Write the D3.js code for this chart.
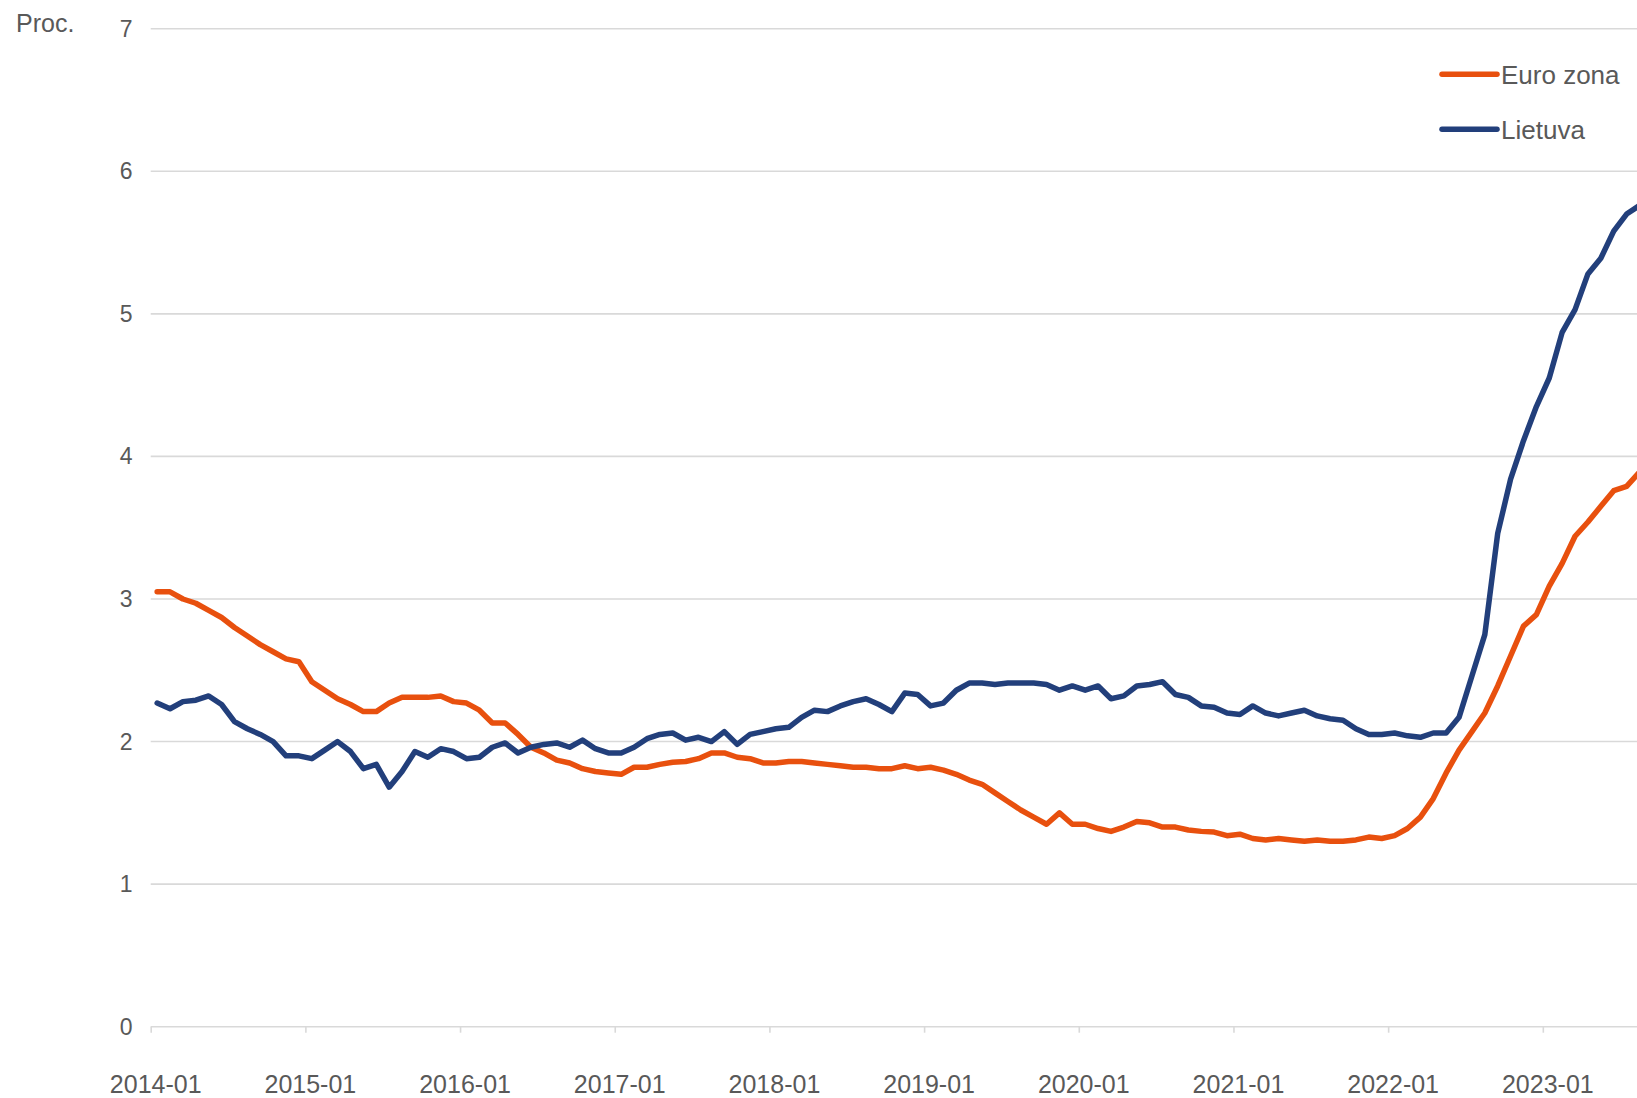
<!DOCTYPE html>
<html>
<head>
<meta charset="utf-8">
<script src="https://cdn.jsdelivr.net/npm/d3@7"></script>
<style>
  html, body { margin: 0; padding: 0; background: #fff; overflow: hidden; }
  svg { display: block; font-family: "Liberation Sans", Arial, sans-serif; }
</style>
</head>
<body>
<div id="chart"></div>
<script>
// monthly values, 2014-01 .. 2023-08
const euroZona = [
  3.05, 3.05, 3.00, 2.97, 2.92, 2.87, 2.80, 2.74, 2.68, 2.63, 2.58, 2.56,
  2.42, 2.36, 2.30, 2.26, 2.21, 2.21, 2.27, 2.31, 2.31, 2.31, 2.32, 2.28,
  2.27, 2.22, 2.13, 2.13, 2.05, 1.96, 1.92, 1.87, 1.85, 1.81, 1.79, 1.78,
  1.77, 1.82, 1.82, 1.84, 1.855, 1.86, 1.88, 1.92, 1.92, 1.89, 1.88, 1.85,
  1.85, 1.86, 1.86, 1.85, 1.84, 1.83, 1.82, 1.82, 1.81, 1.81, 1.83, 1.81,
  1.82, 1.80, 1.77, 1.73, 1.70, 1.64, 1.58, 1.52, 1.47, 1.42, 1.50, 1.42,
  1.42, 1.39, 1.37, 1.40, 1.44, 1.43, 1.40, 1.40, 1.38, 1.37, 1.365, 1.34,
  1.35, 1.32, 1.31, 1.32, 1.31, 1.30, 1.31, 1.30, 1.30, 1.31, 1.33, 1.32,
  1.34, 1.39, 1.47, 1.60, 1.78, 1.94, 2.07, 2.20, 2.39, 2.60, 2.81, 2.89,
  3.09, 3.25, 3.44, 3.54, 3.65, 3.76, 3.79, 3.89
];
const lietuva = [
  2.27, 2.23, 2.28, 2.29, 2.32, 2.26, 2.14, 2.09, 2.05, 2.00, 1.90, 1.90,
  1.88, 1.94, 2.00, 1.93, 1.81, 1.84, 1.68, 1.79, 1.93, 1.89, 1.95, 1.93,
  1.88, 1.89, 1.96, 1.99, 1.92, 1.96, 1.98, 1.99, 1.96, 2.01, 1.95, 1.92,
  1.92, 1.96, 2.02, 2.05, 2.06, 2.01, 2.03, 2.00, 2.07, 1.98, 2.05, 2.07,
  2.09, 2.10, 2.17, 2.22, 2.21, 2.25, 2.28, 2.30, 2.26, 2.21, 2.34, 2.33,
  2.25, 2.27, 2.36, 2.41, 2.41, 2.40, 2.41, 2.41, 2.41, 2.40, 2.36, 2.39,
  2.36, 2.39, 2.30, 2.32, 2.39, 2.40, 2.42, 2.33, 2.31, 2.25, 2.24, 2.20,
  2.19, 2.25, 2.20, 2.18, 2.20, 2.22, 2.18, 2.16, 2.15, 2.09, 2.05, 2.05,
  2.06, 2.04, 2.03, 2.06, 2.06, 2.17, 2.46, 2.75, 3.46, 3.84, 4.11, 4.35,
  4.55, 4.87, 5.03, 5.28, 5.39, 5.58, 5.70, 5.76
];
const seriesNames = ["Euro zona", "Lietuva"];
const seriesColors = ["#e8500e", "#223f7b"];
const yTicks = [0, 1, 2, 3, 4, 5, 6, 7];
const xTickLabels = ["2014-01", "2015-01", "2016-01", "2017-01", "2018-01",
  "2019-01", "2020-01", "2021-01", "2022-01", "2023-01"];

const width = 1637, height = 1098;
const monthPx = 12.89;
const left = 150.7;

const svg = d3.select("#chart").append("svg")
  .attr("width", width)
  .attr("height", height);

// months since 2014-01 on x, points sit in the middle of each month
const x = d3.scaleLinear()
  .domain([0, 116])
  .range([left, left + 116 * monthPx]);

const y = d3.scaleLinear()
  .domain([0, 7])
  .range([1026.7, 28.7]);

const textColor = "#595959";
const gridColor = "#d9d9d9";

// horizontal gridlines
svg.append("g")
  .selectAll("line")
  .data(yTicks)
  .enter()
  .append("line")
  .attr("x1", x(0))
  .attr("x2", width)
  .attr("y1", d => y(d))
  .attr("y2", d => y(d))
  .attr("stroke", gridColor)
  .attr("stroke-width", 1.6);

// y labels
svg.append("g")
  .selectAll("text")
  .data(yTicks)
  .enter()
  .append("text")
  .attr("x", 132.5)
  .attr("y", d => y(d))
  .attr("dy", "0.35em")
  .attr("text-anchor", "end")
  .attr("font-size", "23px")
  .attr("fill", textColor)
  .text(d => d);

svg.append("text")
  .attr("x", 16)
  .attr("y", 31.5)
  .attr("font-size", "25px")
  .attr("fill", textColor)
  .text("Proc.");

// x axis ticks + labels
const xAxis = d3.axisBottom(x)
  .tickValues(xTickLabels.map((d, i) => i * 12))
  .tickSize(6)
  .tickFormat((d, i) => xTickLabels[i]);

const gx = svg.append("g")
  .attr("transform", "translate(0," + y(0) + ")")
  .call(xAxis);
gx.select(".domain").remove();
gx.selectAll(".tick line")
  .attr("stroke", gridColor)
  .attr("stroke-width", 1.6);
gx.selectAll(".tick text")
  .attr("fill", textColor)
  .attr("font-size", "25px")
  .attr("font-family", "Liberation Sans, Arial, sans-serif")
  .attr("x", 4.5)
  .attr("y", 66.5)
  .attr("dy", 0);

// lines
const line = d3.line()
  .x((d, i) => x(i + 0.5))
  .y(d => y(d));

[euroZona, lietuva].forEach((s, k) => {
  svg.append("path")
    .datum(s)
    .attr("fill", "none")
    .attr("stroke", seriesColors[k])
    .attr("stroke-width", 5.5)
    .attr("stroke-linejoin", "round")
    .attr("stroke-linecap", "round")
    .attr("d", line);
});

// legend
const legend = svg.append("g");
seriesNames.forEach((name, k) => {
  const ly = 74.3 + k * 55;
  legend.append("line")
    .attr("x1", 1442)
    .attr("x2", 1497)
    .attr("y1", ly)
    .attr("y2", ly)
    .attr("stroke", seriesColors[k])
    .attr("stroke-width", 5.5)
    .attr("stroke-linecap", "round");
  legend.append("text")
    .attr("x", 1501)
    .attr("y", ly + 9.2)
    .attr("font-size", "26px")
    .attr("fill", textColor)
    .text(name);
});
</script>
</body>
</html>
